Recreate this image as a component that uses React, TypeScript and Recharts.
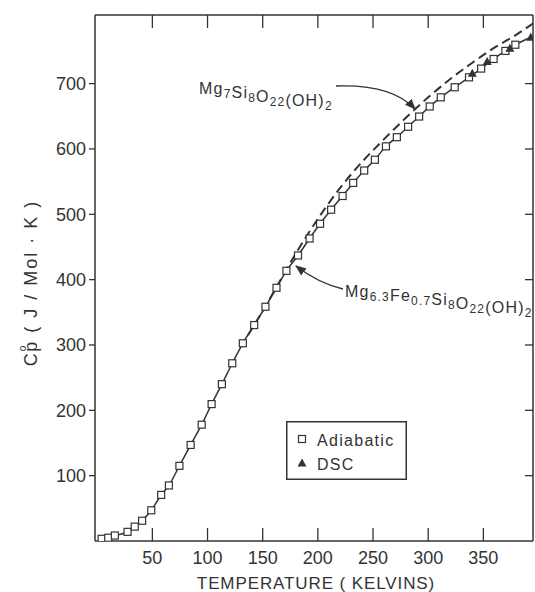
import React from 'react';
import { ComposedChart, Line, Scatter, XAxis, YAxis, Legend } from 'recharts';

// Mg6.3Fe0.7Si8O22(OH)2, adiabatic calorimetry (K, J/mol·K)
const adiabaticT = [4, 10, 16, 27.5, 34, 40.7, 49, 58, 65, 74.5, 84.7, 94.7, 103.7, 113, 122.4, 132, 142.3, 152.5, 162.5, 171.5, 182, 192.5, 202, 212, 222.4, 232, 242, 251.7, 261.7, 271.6, 281.8, 291.8, 301.4, 311.4, 324, 337, 348, 359.3, 370, 379];
const adiabaticCp = [3.4, 5, 8.4, 14, 22, 31, 47, 70.5, 85, 115, 147, 178, 209.5, 240, 272, 302.6, 330.5, 358.5, 387.5, 413.5, 437, 463, 485.5, 507, 528, 548, 567, 583.5, 604, 618, 634, 649.6, 665, 679, 694.4, 709.6, 723, 737.7, 750, 759.5];

// same sample, DSC
const dscT = [340, 353.5, 374, 393];
const dscCp = [716, 734, 754, 771];

// Mg7Si8O22(OH)2 curve (dashed)
const mg7T = [130, 150, 165, 180, 200, 220, 240, 260, 280, 300, 320, 340, 360, 380, 395];
const mg7Cp = [297, 352, 396, 440, 493, 540, 580, 615, 648, 679, 707, 732, 755, 775, 792];

const xTicks = [50, 100, 150, 200, 250, 300, 350];
const yTicks = [100, 200, 300, 400, 500, 600, 700];

const ink = '#333';
const font = '"Liberation Sans", Arial, sans-serif';

const toPoints = (xs: number[], ys: number[]) => xs.map((x, i) => ({ x, y: ys[i] }));
const adiabatic = toPoints(adiabaticT, adiabaticCp);
const dsc = toPoints(dscT, dscCp);
const mg7 = toPoints(mg7T, mg7Cp);
const fitLine = [...adiabatic, dsc[dsc.length - 1]];

const BottomTick = ({ x, y, payload }: any) => (
  <g>
    <line x1={x} y1={y} x2={x} y2={y - 13} stroke={ink} strokeWidth={1.3} />
    <text x={x} y={y + 23} textAnchor="middle" fontSize={18} fontFamily={font} fill={ink}>
      {payload.value}
    </text>
  </g>
);

const TopTick = ({ x, y }: any) => (
  <line x1={x} y1={y} x2={x} y2={y + 13} stroke={ink} strokeWidth={1.3} />
);

const LeftTick = ({ x, y, payload }: any) => (
  <g>
    <line x1={x - 6} y1={y} x2={x} y2={y} stroke={ink} strokeWidth={1.3} />
    <text x={x - 9} y={y + 6.5} textAnchor="end" fontSize={18} fontFamily={font} fill={ink}>
      {payload.value}
    </text>
  </g>
);

const RightTick = ({ x, y }: any) => (
  <line x1={x - 8} y1={y} x2={x} y2={y} stroke={ink} strokeWidth={1.3} />
);

const OpenSquare = (props: any) => {
  const { cx, cy } = props;
  return <rect x={cx - 3.5} y={cy - 3.5} width={7} height={7} fill="#fff" stroke={ink} strokeWidth={1.2} />;
};

const Triangle = (props: any) => {
  const { cx, cy } = props;
  return <polygon points={`${cx},${cy - 4.5} ${cx - 4.5},${cy + 3.5} ${cx + 4.5},${cy + 3.5}`} fill={ink} />;
};

const LegendBox = () => (
  <svg width={121} height={59} style={{ display: 'block' }}>
    <rect x={0.75} y={0.75} width={119.5} height={57.5} fill="#fff" stroke={ink} strokeWidth={1.5} />
    <rect x={12.5} y={14.5} width={7} height={7} fill="#fff" stroke={ink} strokeWidth={1.2} />
    <text x={31} y={25} fontSize={16} fontFamily={font} letterSpacing={1.3} fill={ink}>Adiabatic</text>
    <polygon points="16,37.5 11.5,45.5 20.5,45.5" fill={ink} />
    <text x={31} y={49} fontSize={16} fontFamily={font} letterSpacing={1.3} fill={ink}>DSC</text>
  </svg>
);

const sub = (s: string) => (
  <>
    <tspan dy={4} fontSize={12}>{s}</tspan>
    <tspan dy={-4}>{''}</tspan>
  </>
);

export default function App() {
  return (
    <div style={{ position: 'absolute', left: 0, top: 0, width: 535, height: 592, background: '#fff' }}>
      <ComposedChart width={535} height={592} margin={{ top: 0, right: 0, bottom: 0, left: 0 }}>
        <XAxis
          dataKey="x"
          type="number"
          domain={[-2, 395]}
          allowDataOverflow
          ticks={xTicks}
          interval={0}
          height={51}
          tickSize={0}
          tickMargin={0}
          tickLine={false}
          axisLine={{ stroke: ink, strokeWidth: 1.5 }}
          tick={<BottomTick />}
        />
        <XAxis
          xAxisId="top"
          orientation="top"
          dataKey="x"
          type="number"
          domain={[-2, 395]}
          allowDataOverflow
          ticks={xTicks}
          interval={0}
          height={15}
          tickSize={0}
          tickMargin={0}
          tickLine={false}
          axisLine={{ stroke: ink, strokeWidth: 1.5 }}
          tick={<TopTick />}
        />
        <YAxis
          dataKey="y"
          type="number"
          domain={[0, 805]}
          allowDataOverflow
          ticks={yTicks}
          interval={0}
          width={95}
          tickSize={0}
          tickMargin={0}
          tickLine={false}
          axisLine={{ stroke: ink, strokeWidth: 1.5 }}
          tick={<LeftTick />}
        />
        <YAxis
          yAxisId="right"
          orientation="right"
          dataKey="y"
          type="number"
          domain={[0, 805]}
          allowDataOverflow
          ticks={yTicks}
          interval={0}
          width={2}
          tickSize={0}
          tickMargin={0}
          tickLine={false}
          axisLine={{ stroke: ink, strokeWidth: 1.5 }}
          tick={<RightTick />}
        />
        <Line
          data={mg7}
          dataKey="y"
          type="monotone"
          stroke={ink}
          strokeWidth={2}
          strokeDasharray="9 5"
          dot={false}
          activeDot={false}
          isAnimationActive={false}
        />
        <Line
          data={fitLine}
          dataKey="y"
          type="monotone"
          stroke={ink}
          strokeWidth={1.5}
          dot={false}
          activeDot={false}
          isAnimationActive={false}
        />
        <Scatter data={adiabatic} dataKey="y" shape={<OpenSquare />} isAnimationActive={false} />
        <Scatter data={dsc} dataKey="y" shape={<Triangle />} isAnimationActive={false} />
        <Legend
          layout="horizontal"
          verticalAlign="middle"
          align="center"
          content={<LegendBox />}
          wrapperStyle={{ left: 286, top: 421, width: 121, height: 59 }}
        />
      </ComposedChart>

      <svg
        width={535}
        height={592}
        style={{ position: 'absolute', left: 0, top: 0, pointerEvents: 'none' }}
      >
        <defs>
          <marker id="head" viewBox="0 0 10 10" refX="9" refY="5" markerWidth="11" markerHeight="11" markerUnits="userSpaceOnUse" orient="auto">
            <path d="M0,1 L10,5 L0,9 z" fill={ink} />
          </marker>
        </defs>

        {/* annotation: Mg7Si8O22(OH)2 */}
        <text x={199} y={94} fontSize={16} fontFamily={font} letterSpacing={1.2} fill={ink}>
          <tspan>Mg</tspan>
          {sub('7')}
          <tspan>Si</tspan>
          {sub('8')}
          <tspan>O</tspan>
          {sub('22')}
          <tspan>(OH)</tspan>
          <tspan dy={4} fontSize={12}>2</tspan>
        </text>
        <path d="M336,86 Q392,84 415,109" fill="none" stroke={ink} strokeWidth={1.3} markerEnd="url(#head)" />

        {/* annotation: Mg6.3Fe0.7Si8O22(OH)2 */}
        <text x={345} y={297} fontSize={16} fontFamily={font} letterSpacing={1.2} fill={ink}>
          <tspan>Mg</tspan>
          {sub('6.3')}
          <tspan>Fe</tspan>
          {sub('0.7')}
          <tspan>Si</tspan>
          {sub('8')}
          <tspan>O</tspan>
          {sub('22')}
          <tspan>(OH)</tspan>
          <tspan dy={4} fontSize={12}>2</tspan>
        </text>
        <path d="M343,289 Q318,283 296,266" fill="none" stroke={ink} strokeWidth={1.3} markerEnd="url(#head)" />

        {/* axis titles */}
        <text x={316} y={589} textAnchor="middle" fontSize={17} fontFamily={font} letterSpacing={0.9} fill={ink}>
          TEMPERATURE ( KELVINS)
        </text>
        <text
          x={37}
          y={283}
          transform="rotate(-90 37 283)"
          textAnchor="middle"
          fontSize={18}
          fontFamily={font}
          letterSpacing={2}
          fill={ink}
        >
          <tspan>C</tspan>
          <tspan dy={-11} fontSize={10} letterSpacing={0}>o</tspan>
          <tspan dy={11} dx={-6}>p</tspan>
          <tspan>{'  ( J / Mol · K )'}</tspan>
        </text>
      </svg>
    </div>
  );
}
